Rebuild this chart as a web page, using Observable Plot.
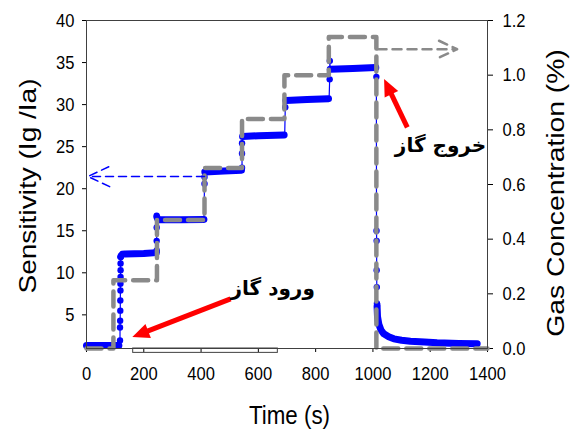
<!DOCTYPE html>
<html><head><meta charset="utf-8">
<script src="https://cdn.jsdelivr.net/npm/d3@7"></script>
<script src="https://cdn.jsdelivr.net/npm/@observablehq/plot@0.6"></script>
<style>body{margin:0;background:#fff}</style>
</head><body><div id="chart"></div>
<script>
// ---- tick labels ----
const xTicks = [0, 200, 400, 600, 800, 1000, 1200, 1400];
const sensTicks = [5, 10, 15, 20, 25, 30, 35, 40];
const concTicks = [0.0, 0.2, 0.4, 0.6, 0.8, 1.0, 1.2];

// ---- gas concentration (%), step profile ----
const gasTime = [0, 94, 94, 246, 246, 412, 412, 543, 543, 691, 691, 846, 846, 1012, 1012, 1400];
const gasConc = [0, 0, 0.25, 0.25, 0.47, 0.47, 0.66, 0.66, 0.84, 0.84, 1.0, 1.0, 1.14, 1.14, 0, 0];

// ---- sensitivity trace (Ig/Ia), all sampled points in order ----
const traceTime = [0, 113, 115, 117, 117, 117.5, 118, 118, 118.5, 118.5, 119, 119, 119, 119.5, 121, 125, 135, 200, 244,
  245, 245, 245, 245, 250, 330, 410, 412, 412, 413, 480, 541, 543, 543, 543, 545, 600, 692, 694, 695, 770, 847,
  849, 849.5, 851, 930, 1010, 1012, 1012.5, 1013, 1013, 1013.5, 1014, 1015, 1016, 1020.5, 1028, 1038, 1055, 1073,
  1100, 1131, 1180, 1224, 1300, 1364];
const traceValue = [1.35, 1.35, 1.35, 1.95, 3.5, 4.3, 5.5, 6.7, 7.9, 8.7, 9.5, 10.3, 11.1, 11.9, 12.05, 12.2, 12.25, 12.3, 12.4,
  12.65, 13.8, 15.4, 16.8, 16.3, 16.3, 16.35, 20.6, 21.4, 22.0, 22.1, 22.2, 22.5, 24.2, 25.4, 26.2, 26.3, 26.4, 29.7, 30.5, 30.6, 30.7,
  33.0, 35.2, 34.2, 34.3, 34.4, 33.3, 15.0, 13.8, 10.3, 8.3, 6.35, 6.0, 4.8, 3.9, 3.2, 2.75, 2.4, 2.15,
  1.98, 1.87, 1.76, 1.68, 1.6, 1.56];

// ---- densely sampled stretches of the same trace (segment id) ----
const bandTime = [0, 113, 119.5, 121, 125, 135, 200, 244, 246, 250, 330, 410, 413, 480, 541, 545, 600, 690, 696, 770, 845,
  851, 930, 1010, 1014.5, 1016, 1020.5, 1028, 1038, 1055, 1073, 1100, 1131, 1180, 1224, 1300, 1364];
const bandValue = [1.35, 1.35, 11.9, 12.05, 12.2, 12.25, 12.3, 12.4, 16.6, 16.3, 16.3, 16.35, 22.0, 22.1, 22.2, 26.2, 26.3, 26.4, 30.5, 30.6, 30.7,
  34.2, 34.3, 34.4, 6.0, 4.8, 3.9, 3.2, 2.75, 2.4, 2.15, 1.98, 1.87, 1.76, 1.68, 1.6, 1.56];
const bandSeg = [0, 0, 1, 1, 1, 1, 1, 1, 2, 2, 2, 2, 3, 3, 3, 4, 4, 4, 5, 5, 5,
  6, 6, 6, 7, 7, 7, 7, 7, 7, 7, 7, 7, 7, 7, 7, 7];

// ---- individual samples visible on the transitions ----
const dotTime = [117, 117, 117.5, 118, 118, 118.5, 118.5, 119, 119, 119, 119.5,
  245, 245, 245, 245, 412, 412, 543, 543, 543, 694, 849, 849.5, 1012, 1012.5, 1013, 1013, 1013.5, 1014, 1015];
const dotValue = [1.95, 3.5, 4.3, 5.5, 6.7, 7.9, 8.7, 9.5, 10.3, 11.1, 11.9,
  12.65, 13.8, 15.4, 16.8, 20.6, 21.4, 22.5, 24.2, 25.4, 29.7, 33.0, 35.2, 33.3, 15.0, 13.8, 10.3, 8.3, 6.35, 6.2];

// ---- annotations ----
const sensArrowX = [412, 5];      // time (s), blue dashed arrow to left axis
const sensArrowY = [21.45];       // sensitivity
const concArrowX = [1016, 1294];  // time (s), grey dashed arrow to right axis
const concArrowY = [1.095];       // concentration (%)
const redTailX = [503, 1120];
const redTailY = [6.9, 27.3];
const redTipX = [186, 1051];
const redTipY = [2.7, 32.2];
const noteText = ["ورود گاز", "خروج گاز"];
const noteX = [650, 1236];
const noteY = [8.1, 25.1];
const stripX = [163, 668];        // small double-line strip under the time axis
const stripY = [0.48, 1];

const toY = c => 1 + c * (39 / 1.2);
const fromY = y => (y - 1) * 1.2 / 39;
const idx = a => d3.range(a.length);

const plot = Plot.plot({
  width: 571, height: 430,
  marginLeft: 86, marginRight: 84, marginTop: 20, marginBottom: 82,
  style: {fontFamily: "'Liberation Sans', Arial, sans-serif", fontSize: "19px", background: "#fff", color: "#000", overflow: "visible"},
  x: {domain: [0, 1400]},
  y: {domain: [1, 40]},
  marks: [
    Plot.axisX(xTicks, {tickSize: 4, tickPadding: 14, label: null, tickFormat: d => String(d)}),
    Plot.axisY(sensTicks, {anchor: "left", tickSize: 4, tickPadding: 8, label: null, tickFormat: d => String(d)}),
    Plot.axisY(concTicks.map(toY), {anchor: "right", tickSize: 5, tickPadding: 10, label: null, tickFormat: d => fromY(d).toFixed(1)}),
    Plot.rect([0], {x1: stripX[0], x2: stripX[1], y1: stripY[0], y2: stripY[1], fill: "none", stroke: "#404040", strokeWidth: 1}),
    Plot.line(idx(traceTime), {x: i => traceTime[i], y: i => traceValue[i], stroke: "#0000ff", strokeWidth: 1.2}),
    Plot.line(idx(bandTime), {x: i => bandTime[i], y: i => bandValue[i], z: i => bandSeg[i], stroke: "#0000ff", strokeWidth: 7, strokeLinecap: "round", strokeLinejoin: "round"}),
    Plot.dot(idx(dotTime), {x: i => dotTime[i], y: i => dotValue[i], r: 3.2, fill: "#0000ff", stroke: "none"}),
    Plot.line(idx(gasTime), {x: i => gasTime[i], y: i => toY(gasConc[i]), stroke: "#8a8a8a", strokeWidth: 4.5, strokeDasharray: "15,8"}),
    Plot.arrow([0], {x1: sensArrowX[0], x2: sensArrowX[1], y1: sensArrowY[0], y2: sensArrowY[0], stroke: "#0000ff", strokeWidth: 1.5, strokeDasharray: "8,5", headLength: 24, headAngle: 50}),
    Plot.arrow([0], {x1: concArrowX[0], x2: concArrowX[1], y1: toY(concArrowY[0]), y2: toY(concArrowY[0]), stroke: "#8a8a8a", strokeWidth: 2.5, strokeDasharray: "9,6", headLength: 12, headAngle: 50}),
    Plot.link(idx(redTailX), {x1: i => redTailX[i], y1: i => redTailY[i], x2: i => redTipX[i], y2: i => redTipY[i], stroke: "#ff0000", strokeWidth: 5}),
    Plot.text(idx(noteText), {x: i => noteX[i], y: i => noteY[i], text: i => noteText[i], fontFamily: "'DejaVu Sans', sans-serif", fontWeight: "bold", fontSize: 20, fill: "#000"}),
    Plot.frame({stroke: "#404040", strokeWidth: 1}),
    Plot.text(["Time (s)"], {frameAnchor: "bottom", textAnchor: "middle", lineAnchor: "middle", dx: 2.5, dy: 67, fontSize: 26}),
    Plot.text(["Sensitivity (Ig /Ia)"], {frameAnchor: "left", textAnchor: "middle", lineAnchor: "middle", dx: -57.5, dy: 1.5, rotate: -90, fontSize: 23}),
    Plot.text(["Gas Concentration (%)"], {frameAnchor: "right", textAnchor: "middle", lineAnchor: "middle", dx: 69, dy: 8.5, rotate: -90, fontSize: 23})
  ]
});
document.getElementById("chart").appendChild(plot);

// filled red arrow heads
const svg = d3.select(plot);
const defs = svg.append("defs");
const mk = defs.append("marker").attr("id", "redhead").attr("viewBox", "-12 -9 22 18")
  .attr("markerWidth", 22).attr("markerHeight", 18).attr("markerUnits", "userSpaceOnUse")
  .attr("orient", "auto").attr("refX", 0).attr("refY", 0);
mk.append("path").attr("d", "M-9,-7.5L8,0L-9,7.5Z").attr("fill", "#ff0000").attr("stroke", "none");
svg.selectAll("g").each(function () {
  const s = (this.getAttribute("stroke") || "").toLowerCase();
  if (s === "#ff0000" || s === "red") {
    d3.select(this).selectAll("path,line").attr("marker-end", "url(#redhead)");
  }
});

// horizontally condensed lettering, as in the reference
svg.selectAll('g[aria-label$="tick label"] text').each(function () {
  const n = this.getComputedTextLength();
  this.setAttribute("textLength", (n * 0.87).toFixed(1));
  this.setAttribute("lengthAdjust", "spacingAndGlyphs");
});
const stretch = {"Time (s)": "scale(0.86,1)", "Sensitivity (Ig /Ia)": "scale(1.22,1)", "Gas Concentration (%)": "scale(1.23,1)"};
svg.selectAll("text").each(function () {
  const t = this.textContent;
  if (stretch[t]) {
    const tr = this.getAttribute("transform") || "";
    this.setAttribute("transform", tr + " " + stretch[t]);
  }
});
</script>
</body></html>
